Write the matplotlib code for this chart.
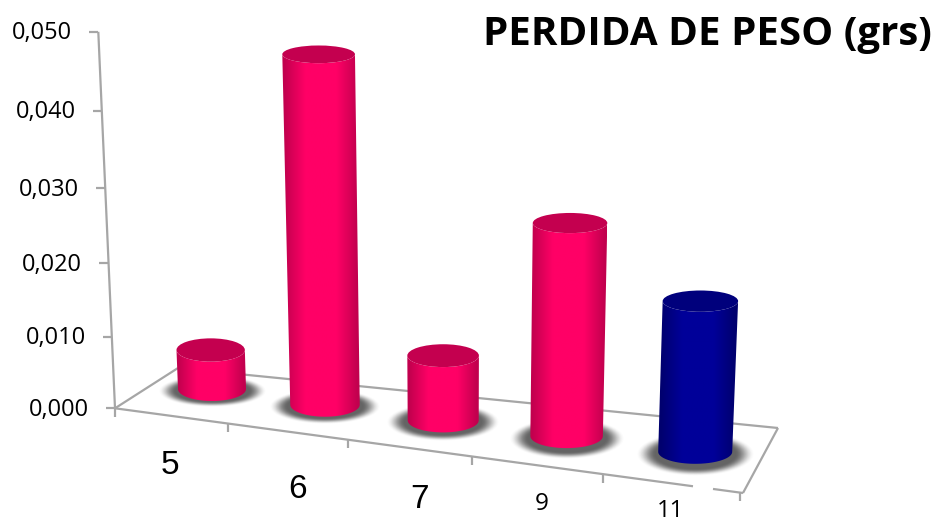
import numpy as np
import matplotlib
matplotlib.use("Agg")
import matplotlib.pyplot as plt
from matplotlib.patches import Polygon, Ellipse
from matplotlib.colors import LinearSegmentedColormap

categories = ["5", "6", "7", "9", "11"]
values = [0.0052, 0.0458, 0.0083, 0.0268, 0.0186]
y_ticks = [0.000, 0.010, 0.020, 0.030, 0.040, 0.050]
y_tick_labels = ["0,000", "0,010", "0,020", "0,030", "0,040", "0,050"]
title = "PERDIDA DE PESO (grs)"
side_colors = [("#C2004E", "#FF0066")] * 4 + [("#00006E", "#000099")]
top_colors = ["#C4004F"] * 4 + ["#00007C"]
label_pos = [(170, 465), (298, 489), (420, 500), (542, 504), (670, 511)]
label_fonts = [("Liberation Sans", 24)] * 3 + [("Open Sans", 17.5), ("Open Sans", 17)]

GRAY = "#A6A6A6"
fig = plt.figure(figsize=(9.41, 5.23), dpi=100)
ax = fig.add_axes([0, 0, 1, 1])
ax.set_axis_off()


def base_x(i):
    return 212 + 113 * i + 2.6 * i * (i - 1)


def base_y(i):
    return 389 + 15.7 * i


def radius(i):
    return 34 + 0.75 * i


def height_px(i, v):
    return v * 7500 * (1 + 0.02 * i)


def axis_xy(v):
    n = v * 100
    return 115 - 3.34 * n, 408.3 - (71.5 * n + 0.95 * n * (n - 1))


def gradient_image(dark, light):
    cmap = LinearSegmentedColormap.from_list(
        "g", [(0, dark), (0.03, dark), (0.3, light), (0.7, light), (0.97, dark), (1, dark)])
    return cmap(np.linspace(0, 1, 256))[None, :, :3]


def shadow(i):
    cx, cy = base_x(i), base_y(i) + 2
    rx, ry = radius(i) * 1.6, 16 + 1.5 * i
    xs = np.linspace(-1, 1, 200)
    xx, yy = np.meshgrid(xs, xs)
    d = np.sqrt(xx ** 2 + yy ** 2)
    a = np.clip((1 - d) / 0.33, 0, 1)
    a = a * a * (3 - 2 * a) * 0.78
    rgba = np.zeros((200, 200, 4))
    rgba[..., :3] = 0.22
    rgba[..., 3] = a
    ax.imshow(rgba, extent=(cx - rx, cx + rx, cy + ry, cy - ry), aspect="auto",
              interpolation="bilinear", zorder=2)


def cylinder(i, v):
    x0, y0, r0 = base_x(i), base_y(i), radius(i)
    h = height_px(i, v)
    x1 = x0 + (x0 - 453) * 0.000142 * h
    y1 = y0 - h
    r1 = r0 * (1 + 0.00013 * h)
    ry0, ry1 = 12.0, 12 - 0.009 * h
    t = np.linspace(0, np.pi, 60)
    bottom = np.c_[x0 - r0 * np.cos(t), y0 + ry0 * np.sin(t)]
    top = np.c_[x1 + r1 * np.cos(t), y1 + ry1 * np.sin(t)]
    poly = np.r_[bottom, top]
    patch = Polygon(poly, closed=True, facecolor="none", edgecolor="none", zorder=3 + i)
    ax.add_patch(patch)
    left, right = min(x0 - r0, x1 - r1), max(x0 + r0, x1 + r1)
    im = ax.imshow(gradient_image(*side_colors[i]),
                   extent=(left, right, y0 + ry0 + 1, y1 - ry1 - 1), aspect="auto",
                   interpolation="bilinear", zorder=3 + i)
    im.set_clip_path(patch)
    ax.add_patch(Ellipse((x1, y1), 2 * r1, 2 * ry1, facecolor=top_colors[i],
                         edgecolor="none", zorder=3 + i + 0.5))


# Floor outline
corner_fl = axis_xy(0)
corner_fr = (743, 493)
corner_br = (778, 428)
corner_bl = (178, 368)
line_kw = dict(color=GRAY, lw=1.6, solid_capstyle="butt", zorder=1)
ax.plot([corner_fl[0], corner_bl[0]], [corner_fl[1], corner_bl[1]], **line_kw)
ax.plot([corner_bl[0], corner_br[0]], [corner_bl[1], corner_br[1]], **line_kw)
ax.plot([corner_br[0], corner_fr[0]], [corner_br[1], corner_fr[1]], **line_kw)
front_slope = (corner_fr[1] - corner_fl[1]) / (corner_fr[0] - corner_fl[0])
front_y = lambda x: corner_fl[1] + front_slope * (x - corner_fl[0])
ax.plot([corner_fl[0], 693], [corner_fl[1], front_y(693)], **line_kw)
ax.plot([713, corner_fr[0]], [front_y(713), corner_fr[1]], **line_kw)
for x in [115, 228, 348, 472, 603, 740]:
    ax.plot([x, x], [front_y(x), front_y(x) + 8.5], **line_kw)

# Value axis
ax.plot([axis_xy(y_ticks[0])[0], axis_xy(y_ticks[-1])[0]],
        [axis_xy(y_ticks[0])[1], axis_xy(y_ticks[-1])[1]], **line_kw)
for v, lab in zip(y_ticks, y_tick_labels):
    x, y = axis_xy(v)
    ax.plot([x - 9, x], [y, y], **line_kw)
    ax.text(x - 26, y + 1.5, lab, ha="right", va="center", family="Open Sans",
            fontsize=17, color="black")

for i in range(len(values)):
    shadow(i)
for i, v in enumerate(values):
    cylinder(i, v)

for lab, (x, y), (fam, fs) in zip(categories, label_pos, label_fonts):
    ax.text(x, y, lab, ha="center", va="center", family=fam, fontsize=fs, color="black")

ax.text(932, 35, title, ha="right", va="center", family="Open Sans", fontweight="bold",
        fontsize=29, color="black")

ax.set_xlim(0, 941)
ax.set_ylim(523, 0)
fig.savefig("out.png", dpi=100, facecolor="white")
